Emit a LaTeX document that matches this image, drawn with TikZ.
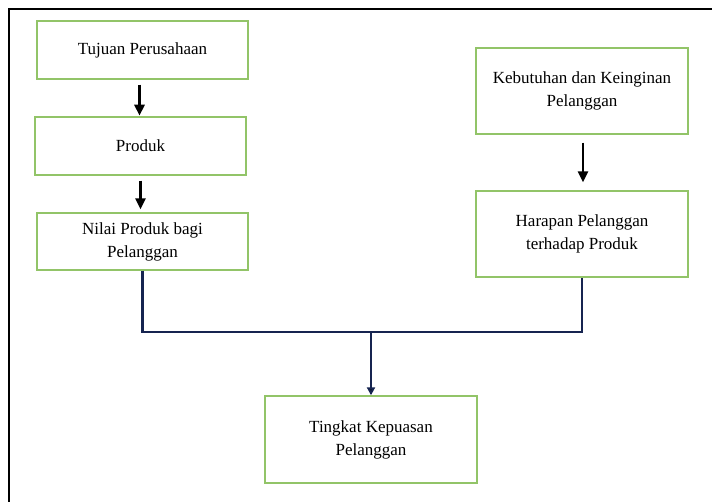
\documentclass[tikz,border=0pt]{standalone}
\usepackage{fontspec}
\setmainfont{Liberation Serif}
\usetikzlibrary{arrows.meta}
\definecolor{boxgreen}{RGB}{146,196,104}
\definecolor{navy}{RGB}{22,36,80}
\begin{document}
\begin{tikzpicture}[x=1pt,y=-1pt,
  box/.style={draw=boxgreen,line width=1.4pt,align=center,inner sep=0pt,
    font=\fontsize{17}{23}\selectfont},
  arr/.style={draw=black,line width=2.8pt,-{Triangle[length=11pt,width=10pt]}},
  conn/.style={draw=navy,line width=2.8pt}]
\useasboundingbox (0,0) rectangle (712,502);
\draw[line width=2.6pt] (712,9) -- (9,9) -- (9,502);
\node[box,minimum width=211pt,minimum height=58pt] (tuj) at (142.5,50) {Tujuan Perusahaan};
\node[box,minimum width=211pt,minimum height=58pt] (prod) at (140.5,146) {Produk};
\node[box,minimum width=211pt,minimum height=57pt] (nilai) at (142.5,241.5) {Nilai Produk bagi\\Pelanggan};
\node[box,minimum width=212pt,minimum height=86pt] (keb) at (582,91) {Kebutuhan dan Keinginan\\Pelanggan};
\node[box,minimum width=212pt,minimum height=86pt] (har) at (582,234) {Harapan Pelanggan\\terhadap Produk};
\node[box,minimum width=212pt,minimum height=87pt] (ting) at (371,439.5) {Tingkat Kepuasan\\Pelanggan};
\draw[arr] ([xshift=-3pt,yshift=-5pt]tuj.south) -- ++(0,31);
\draw[arr] ([yshift=-5pt]prod.south) -- ([yshift=3pt]prod.south |- nilai.north);
\draw[arr] ([xshift=1pt,yshift=-8pt]keb.south) -- ([xshift=1pt,yshift=8pt]har.north);
\coordinate (j) at (371,332);
\draw[conn] (nilai.south) |- (j) -| (har.south);
\draw[conn,-{Triangle[length=8pt,width=8pt,fill=black]}] (j) -- (ting.north);
\end{tikzpicture}
\end{document}
